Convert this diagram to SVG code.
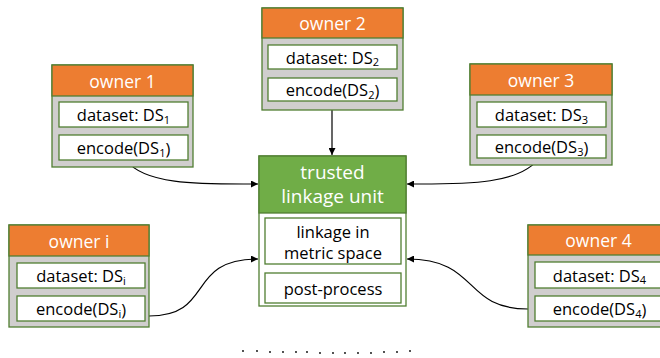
<svg xmlns="http://www.w3.org/2000/svg" width="660" height="358" viewBox="0 0 660 358">
<defs>
<style>
.outer{fill:#d0cece;stroke:#507e32;stroke-width:1.3}
.hdr{fill:#ed7d31;stroke:#507e32;stroke-width:1.3}
.inner{fill:#ffffff;stroke:#507e32;stroke-width:1.3}
.tout{fill:#ffffff;stroke:#507e32;stroke-width:1.3}
.thdr{fill:#70ad47;stroke:#507e32;stroke-width:1.3}
text{font-family:"Open Sans","Liberation Sans",sans-serif;text-anchor:middle;dominant-baseline:central}
.ht{fill:#ffffff;font-size:17.5px}
.th{fill:#ffffff;font-size:19px}
.bt{fill:#000000;font-size:16.5px}
.sub{font-size:11px}
.conn{fill:none;stroke:#000000;stroke-width:1.2}
</style>
<marker id="arr" viewBox="0 0 8 8" refX="8" refY="4" markerWidth="7" markerHeight="7" markerUnits="userSpaceOnUse" orient="auto">
<path d="M0,0 L8,4 L0,8 z" fill="#000000"/>
</marker>
</defs>
<g id="connectors">
<path class="conn" d="M332,101 L332,155" marker-end="url(#arr)"/>
<path class="conn" d="M126,160 C145,186 205,184 258,184" marker-end="url(#arr)"/>
<path class="conn" d="M540,157 C520,186 460,184 407,184" marker-end="url(#arr)"/>
<path class="conn" d="M149,316 C215,316 185,259 258,259" marker-end="url(#arr)"/>
<path class="conn" d="M528,309 C462,309 480,259 407,259" marker-end="url(#arr)"/>
</g>
<g id="owner1">
<rect class="outer" x="52" y="65" width="141" height="102"/>
<rect class="hdr" x="52" y="65" width="141" height="31"/>
<text class="ht" x="122.5" y="80.5">owner 1</text>
<rect class="inner" x="59" y="102" width="129" height="25"/>
<text class="bt" x="123.5" y="114.5">dataset: DS<tspan class="sub" dy="4">1</tspan></text>
<rect class="inner" x="59" y="135" width="129" height="25"/>
<text class="bt" x="123.5" y="147.5">encode(DS<tspan class="sub" dy="4">1</tspan><tspan dy="-4">)</tspan></text>
</g>
<g id="owner2">
<rect class="outer" x="262" y="8" width="141" height="102"/>
<rect class="hdr" x="262" y="8" width="141" height="30"/>
<text class="ht" x="332.5" y="23">owner 2</text>
<rect class="inner" x="268" y="45" width="129" height="24"/>
<text class="bt" x="332.5" y="57">dataset: DS<tspan class="sub" dy="4">2</tspan></text>
<rect class="inner" x="268" y="78" width="129" height="23"/>
<text class="bt" x="332.5" y="89.5">encode(DS<tspan class="sub" dy="4">2</tspan><tspan dy="-4">)</tspan></text>
</g>
<g id="owner3">
<rect class="outer" x="470" y="64" width="142" height="101"/>
<rect class="hdr" x="470" y="64" width="142" height="31"/>
<text class="ht" x="541" y="79.5">owner 3</text>
<rect class="inner" x="477" y="102" width="129" height="25"/>
<text class="bt" x="541.5" y="114.5">dataset: DS<tspan class="sub" dy="4">3</tspan></text>
<rect class="inner" x="477" y="135" width="129" height="23"/>
<text class="bt" x="541.5" y="146.5">encode(DS<tspan class="sub" dy="4">3</tspan><tspan dy="-4">)</tspan></text>
</g>
<g id="owneri">
<rect class="outer" x="9" y="225" width="140" height="102"/>
<rect class="hdr" x="9" y="225" width="140" height="31"/>
<text class="ht" x="79" y="240.5">owner i</text>
<rect class="inner" x="17" y="263" width="128" height="25"/>
<text class="bt" x="81" y="275.5">dataset: DS<tspan class="sub" dy="4">i</tspan></text>
<rect class="inner" x="17" y="296" width="128" height="25"/>
<text class="bt" x="81" y="308.5">encode(DS<tspan class="sub" dy="4">i</tspan><tspan dy="-4">)</tspan></text>
</g>
<g id="owner4">
<rect class="outer" x="528" y="225" width="141" height="102"/>
<rect class="hdr" x="528" y="225" width="141" height="30"/>
<text class="ht" x="598.5" y="240">owner 4</text>
<rect class="inner" x="535" y="262" width="129" height="26"/>
<text class="bt" x="599.5" y="275">dataset: DS<tspan class="sub" dy="4">4</tspan></text>
<rect class="inner" x="535" y="296" width="129" height="25"/>
<text class="bt" x="599.5" y="308.5">encode(DS<tspan class="sub" dy="4">4</tspan><tspan dy="-4">)</tspan></text>
</g>
<g id="trusted">
<rect class="tout" x="259" y="156" width="147" height="150"/>
<rect class="thdr" x="259" y="156" width="147" height="57"/>
<text class="th" x="332.5" y="172">trusted</text>
<text class="th" x="332.5" y="196">linkage unit</text>
<rect class="inner" x="265" y="218" width="136" height="46"/>
<text class="bt" x="333" y="231">linkage in</text>
<text class="bt" x="333" y="252">metric space</text>
<rect class="inner" x="265" y="273" width="136" height="30"/>
<text class="bt" x="333" y="288">post-process</text>
</g>
<g id="dots" fill="#000000">
<circle cx="243" cy="351" r="0.9"/><circle cx="257" cy="351" r="0.9"/><circle cx="270" cy="352" r="0.9"/><circle cx="283" cy="352" r="0.9"/><circle cx="296" cy="352" r="0.9"/><circle cx="307" cy="352" r="0.9"/><circle cx="320" cy="353" r="0.9"/><circle cx="333" cy="353" r="0.9"/><circle cx="345" cy="353" r="0.9"/><circle cx="358" cy="353" r="0.9"/><circle cx="371" cy="353" r="0.9"/><circle cx="384" cy="352" r="0.9"/><circle cx="397" cy="352" r="0.9"/><circle cx="410" cy="351" r="0.9"/>
</g>
</svg>
